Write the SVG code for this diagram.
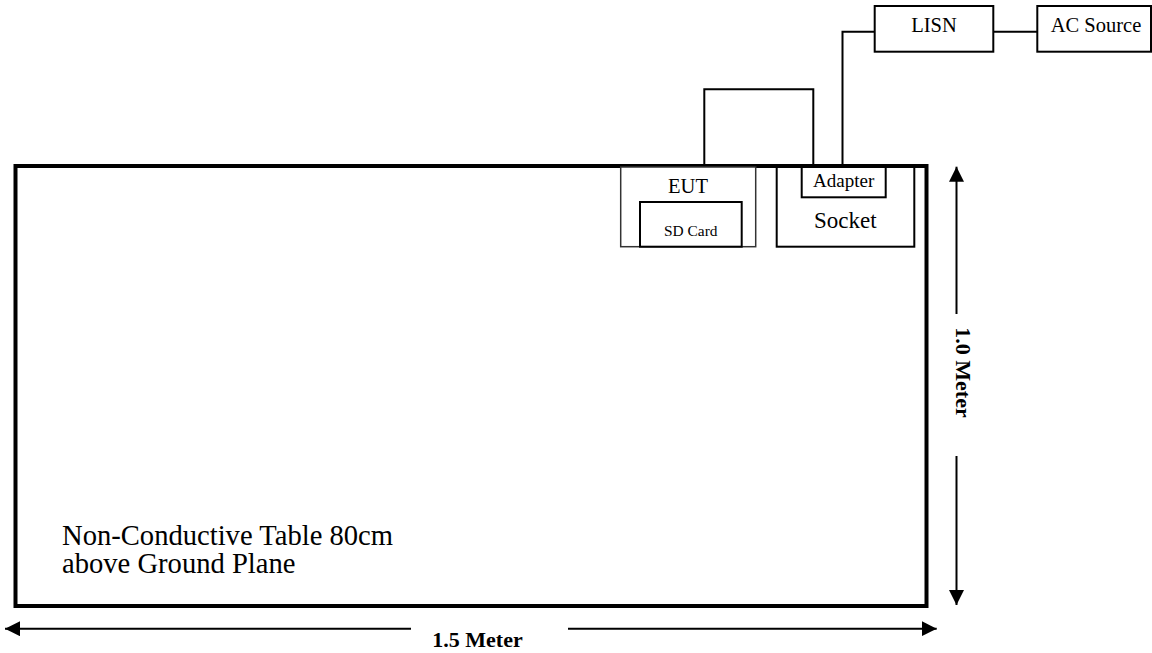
<svg xmlns="http://www.w3.org/2000/svg" width="1152" height="653" viewBox="0 0 1152 653">
<style>
  text { font-family: "Liberation Serif", "Times New Roman", serif; fill: #000; }
  .box { fill: #fff; stroke: #000; stroke-width: 2; }
  .thin { fill: #fff; stroke: #333; stroke-width: 1.5; }
  .wire { fill: none; stroke: #000; stroke-width: 2; }
  .dim { fill: none; stroke: #000; stroke-width: 2; }
  .lbl { text-anchor: middle; }
  .dimlbl { font-weight: bold; font-size: 22px; text-anchor: middle; }
</style>
<defs>
  <marker id="arrow" markerUnits="userSpaceOnUse" markerWidth="15" markerHeight="15" refX="15" refY="7.5" orient="auto">
    <path d="M0,0 L15,7.5 L0,15 Z" fill="#000"/>
  </marker>
</defs>
<rect width="1152" height="653" fill="#fff"/>

<g id="table">
  <rect x="15.5" y="166" width="911" height="440" fill="none" stroke="#000" stroke-width="4"/>
  <text x="62" y="545" font-size="28.6">Non-Conductive Table 80cm</text>
  <text x="62" y="573" font-size="28.6">above Ground Plane</text>
</g>

<g id="connectors">
  <polyline class="wire" points="704.3,166 704.3,89.3 813.3,89.3 813.3,166"/>
  <polyline class="wire" points="842.5,167 842.5,31.7 874.7,31.7"/>
  <line class="wire" x1="993.3" y1="31.7" x2="1037.3" y2="31.7"/>
</g>

<g id="eut">
  <rect class="thin" x="620.7" y="167" width="135" height="79.7"/>
  <text class="lbl" x="688" y="193.3" font-size="20.5">EUT</text>
</g>
<g id="sdcard">
  <rect class="box" x="640" y="202" width="101.7" height="44.7"/>
  <text class="lbl" x="690.8" y="236" font-size="15.4">SD Card</text>
</g>
<g id="socket">
  <rect class="box" x="776.7" y="167" width="137.6" height="79.7"/>
  <text class="lbl" x="845.3" y="228.3" font-size="23">Socket</text>
</g>
<g id="adapter">
  <rect class="box" x="801.7" y="167" width="84" height="30.3" stroke-width="1.5"/>
  <text class="lbl" x="843.7" y="187.3" font-size="19">Adapter</text>
</g>
<g id="lisn">
  <rect class="box" x="874.7" y="6" width="118.6" height="45.7"/>
  <text class="lbl" x="934" y="32" font-size="20.5">LISN</text>
</g>
<g id="acsource">
  <rect class="box" x="1037.3" y="6" width="113.7" height="45.7"/>
  <text class="lbl" x="1096" y="32" font-size="20.5">AC Source</text>
</g>

<g id="dimensions">
  <line class="dim" x1="411" y1="628.7" x2="5" y2="628.7" marker-end="url(#arrow)"/>
  <line class="dim" x1="568" y1="628.7" x2="936.7" y2="628.7" marker-end="url(#arrow)"/>
  <text class="dimlbl" x="477.5" y="646.5">1.5 Meter</text>
  <line class="dim" x1="956.5" y1="314" x2="956.5" y2="166.7" marker-end="url(#arrow)"/>
  <line class="dim" x1="956.5" y1="456" x2="956.5" y2="605" marker-end="url(#arrow)"/>
  <text class="dimlbl" transform="translate(955.5,372.5) rotate(90)" x="0" y="0">1.0 Meter</text>
</g>
</svg>
